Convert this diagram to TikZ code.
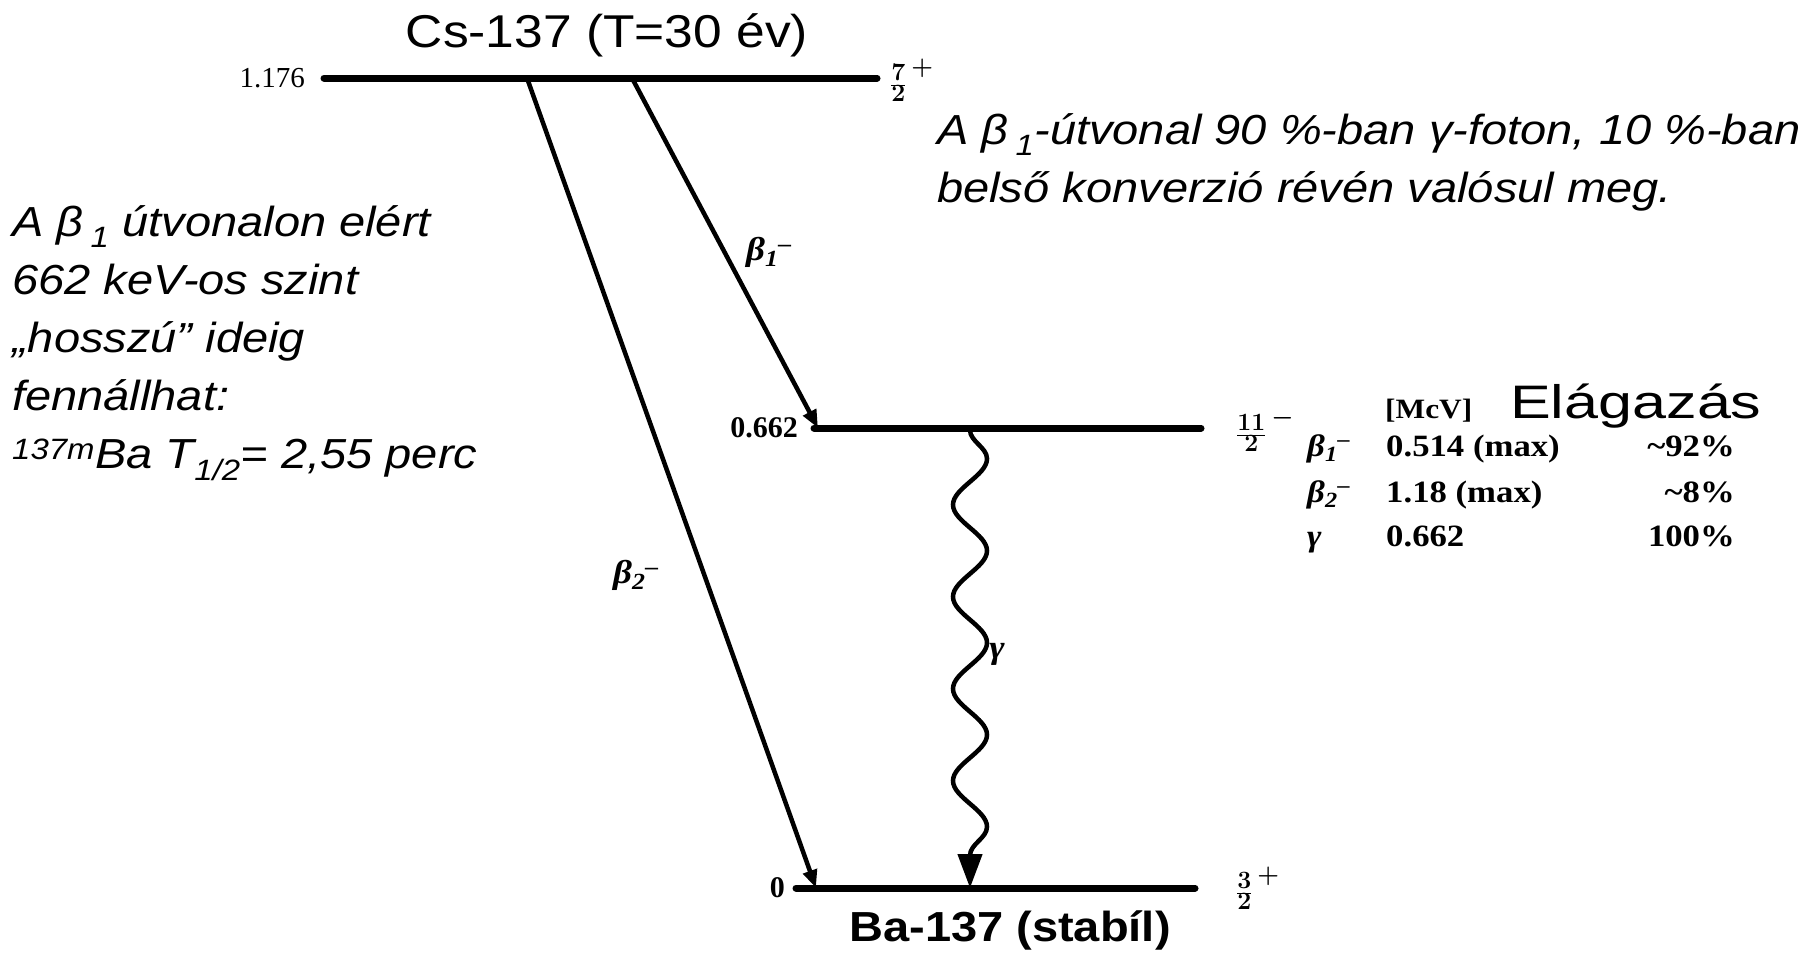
\documentclass[tikz,border=0pt]{standalone}
\usepackage{fontspec}
\setmainfont{Liberation Sans}[FakeStretch=1.12]
\newfontfamily\tms{Liberation Serif}[FakeStretch=1.12]
\newfontfamily\tmsn{Liberation Serif}
\newfontfamily\wide{Liberation Sans}[FakeStretch=1.3]
\usetikzlibrary{arrows.meta,decorations.pathmorphing}

\begin{document}
\begin{tikzpicture}[x=1pt, y=-1pt,
  level/.style={line width=7pt, line cap=round},
  beta/.style={line width=4.5pt, -{Triangle[length=18pt,width=14pt]}},
  gam/.style={line width=4.5pt, decorate, decoration={snake, amplitude=17pt, segment length=92pt, post length=32pt}, -{Triangle[length=34pt,width=24pt]}},
  lvl/.style={font=\tmsn\bfseries\fontsize{30}{30}\selectfont, inner sep=0pt},
  spin/.style={font=\boldmath\fontsize{36}{36}\selectfont, inner sep=0pt, anchor=west},
  tbl/.style={font=\tms\bfseries\fontsize{31}{31}\selectfont, inner sep=0pt},
  note/.style={font=\itshape\fontsize{42}{58}\selectfont, align=left, inner sep=0pt, anchor=north west}]
\useasboundingbox (0,0) rectangle (1814,956);

% energy levels
\coordinate (t0) at (324,78); \coordinate (t1) at (877,78);
\coordinate (m0) at (814,428); \coordinate (m1) at (1201,428);
\coordinate (g0) at (796,888); \coordinate (g1) at (1195,888);
\draw[level] (t0) -- (t1);
\draw[level] (m0) -- (m1);
\draw[level] (g0) -- (g1);
\node[lvl, font=\tmsn\fontsize{29}{29}\selectfont, anchor=east] (et) at (305,78) {1.176};
\node[lvl, anchor=east] (em) at (798,428) {0.662};
\node[lvl, anchor=east] (eg) at (785,888) {0};
\node[spin] (st) at (890,80) {$\frac{7}{2}^{\,+}$};
\node[spin] (sm) at (1236,430) {$\frac{11}{2}^{\,-}$};
\node[spin] (sg) at (1236,888) {$\frac{3}{2}^{\,+}$};
\node[font=\fontsize{46}{46}\selectfont, anchor=base] (cs) at (607,47) {Cs-137 (T=30 év)};
\node[font=\bfseries\fontsize{42}{42}\selectfont, anchor=base] (ba) at (1010,941) {Ba-137 (stabíl)};

% transitions
\coordinate (b1s) at (632,78); \coordinate (b1e) at (818,428);
\coordinate (b2s) at (527,78); \coordinate (b2e) at (816,888);
\coordinate (gs) at (970,430); \coordinate (ge) at (970,888);
\draw[beta] (b1s) -- (b1e);
\draw[beta] (b2s) -- (b2e);
\draw[gam] (gs) -- (ge);
\node[tbl, font=\tms\bfseries\fontsize{33}{33}\selectfont] (lb1) at (769,252) {\itshape β\textsubscript{1}\textsuperscript{–}};
\node[tbl, font=\tms\bfseries\fontsize{33}{33}\selectfont] (lb2) at (636,575) {\itshape β\textsubscript{2}\textsuperscript{–}};
\node[tbl, font=\tms\bfseries\fontsize{33}{33}\selectfont] (lg) at (997,654) {\itshape γ};

% table
\node[tbl, font=\tms\bfseries\fontsize{28}{28}\selectfont, anchor=base west] (hd) at (1385,418) {[McV]};
\node[font=\wide\fontsize{47}{47}\selectfont, anchor=base west, inner sep=0pt] (br) at (1510,418) {Elágazás};
\node[tbl, anchor=base west] (r1a) at (1307,456) {\itshape β\textsubscript{1}\textsuperscript{–}};
\node[tbl, anchor=base west] (r1b) at (1386,456) {0.514 (max)};
\node[tbl, anchor=base east] (r1c) at (1735,456) {\char`\~92\%};
\node[tbl, anchor=base west] (r2a) at (1307,502) {\itshape β\textsubscript{2}\textsuperscript{–}};
\node[tbl, anchor=base west] (r2b) at (1386,502) {1.18 (max)};
\node[tbl, anchor=base east] (r2c) at (1735,502) {\char`\~8\%};
\node[tbl, anchor=base west] (r3a) at (1307,546) {\itshape γ};
\node[tbl, anchor=base west] (r3b) at (1386,546) {0.662};
\node[tbl, anchor=base east] (r3c) at (1735,546) {100\%};

% notes
\node[note] (nl) at (12,205) {A β\,\textsubscript{1} útvonalon elért\\662 keV-os szint\\„hosszú” ideig\\fennállhat:\\\textsuperscript{137m}Ba T\textsubscript{1/2}= 2,55 perc};
\node[note] (nr) at (937,113) {A β\,\textsubscript{1}-útvonal 90 \%-ban γ-foton, 10 \%-ban\\belső konverzió révén valósul meg.};
\end{tikzpicture}
\end{document}
